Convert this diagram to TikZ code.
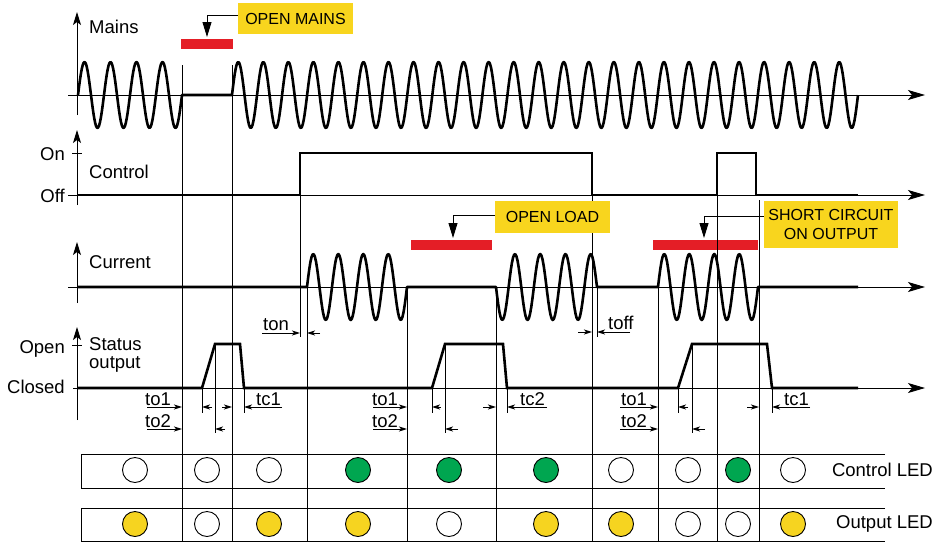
\documentclass[tikz,border=0pt]{standalone}
\usepackage{fontspec}
\setmainfont{Liberation Sans}
\usetikzlibrary{arrows.meta}
\definecolor{notefill}{HTML}{F8D51E}
\definecolor{faultred}{HTML}{E41E26}
\definecolor{ledgreen}{HTML}{00A650}
\definecolor{ledyellow}{HTML}{F6D420}

\begin{document}
\begin{tikzpicture}[
  x=1pt, y=-1pt,
  every node/.style={font=\fontsize{18.5}{21}\selectfont, inner sep=0pt},
  guide/.style={line width=0.9pt},
  sig/.style={line width=2.6pt, line join=round},
  haxis/.style={line width=0.9pt, -{Stealth[length=17pt,width=10pt,inset=4pt]}},
  vaxis/.style={line width=0.9pt, -{Stealth[length=13pt,width=8pt,inset=3pt]}},
  dim/.style={line width=0.9pt, -{Stealth[length=8pt,width=5pt,inset=2pt]}},
  fault/.style={fill=faultred, draw=none},
  note/.style={fill=notefill, font=\fontsize{16}{19}\selectfont, align=center},
  pointer/.style={line width=0.9pt, -{Triangle[length=15pt,width=9pt]}},
  led/.style={circle, draw, line width=0.9pt, minimum size=25pt}
]
\useasboundingbox (0,0) rectangle (934,542);

% fault bars
\fill[fault] (181,39) rectangle (233,49);
\fill[fault] (411,240) rectangle (492,250);
\fill[fault] (653,240) rectangle (758,250);

% time guides
\foreach \x/\a/\b in {182/65/541, 232/65/541, 300/153/337, 307/287/541, 407/287/541,
  496/287/541, 592/153/541, 597/287/337, 658/287/541, 717/153/541, 759/200/541}
  \draw[guide] (\x,\a) -- (\x,\b);
\foreach \x/\a/\b in {202/388/413, 215/344/433, 244/388/413, 432/388/413, 445/344/433,
  507/388/413, 678/388/413, 692/344/433, 772/388/413}
  \draw[guide] (\x,\a) -- (\x,\b);

% axes
\draw[haxis] (68,95) -- (925,95);
\draw[vaxis] (77,115) -- (77,12);
\draw[haxis] (68,195) -- (925,195);
\draw[vaxis] (77,205) -- (77,130);
\draw[guide] (72,153) -- (82,153);
\draw[haxis] (68,287) -- (925,287);
\draw[vaxis] (77,303) -- (77,242);
\draw[haxis] (73,388) -- (925,388);
\draw[vaxis] (77,420) -- (77,327);
\draw[guide] (72,345) -- (82,345);

% signals
\draw[sig] plot[domain=78:182,samples=110] (\x,{95-33*sin((\x-78)/26*360)})
  -- (232,95) -- plot[domain=232:858,samples=700] (\x,{95-33*sin((\x-232)/25.04*360)});
\draw[sig, line join=miter] (77,195) -| (300,153) -| (592,195) -| (717,153) -| (756,195) -- (858,195);
\draw[sig] (77,287) -- (307,287)
  -- plot[domain=307:407,samples=90] (\x,{287-33*sin((\x-307)/25*360)}) -- (496,287)
  -- plot[domain=496:597,samples=90] (\x,{287+33*sin((\x-496)/25.25*360)}) -- (658,287)
  -- plot[domain=658:758,samples=90] (\x,{287-33*sin((\x-658)/25*360)}) -- (858,287);
\draw[sig, line join=miter] (77,388) -- (202,388) -- (215,344) -- (240,344) -- (244,388)
  -- (432,388) -- (445,344) -- (503,344) -- (507,388)
  -- (678,388) -- (692,344) -- (767,344) -- (772,388) -- (858,388);

% timing marks
\foreach \a/\b/\y in {147/182/407, 212/202/407, 147/182/429, 225/215/429, 222/232/407, 282/244/407,
  262/300/333, 320/307/333, 578/592/332, 630/597/332,
  373/407/407, 441/432/407, 373/407/429, 458/445/429, 483/496/407, 547/507/407,
  620/658/407, 688/678/407, 620/658/429, 705/692/429, 747/759/407, 810/772/407}
  \draw[dim] (\a,\y) -- (\b,\y);
\foreach \t/\x/\y [count=\i] in {to1/145/405, to2/145/427, tc1/256/405, ton/263/330, toff/608/329,
  to1/372/405, to2/372/427, tc2/520/405, to1/621/405, to2/621/427, tc1/784/405}
  \node[anchor=base west] (mark\i) at (\x,\y) {\t};

% axis labels
\node[anchor=base west] (mainslbl) at (89,33) {Mains};
\node[anchor=base west] (ctrllbl) at (89,178) {Control};
\node[anchor=base west] (currlbl) at (89,268) {Current};
\node[anchor=base west] (statlbl) at (89,350) {Status};
\node[anchor=base west] (outlbl) at (89,368) {output};
\node[anchor=base east] (onlbl) at (65,160) {On};
\node[anchor=base east] (offlbl) at (65,202) {Off};
\node[anchor=base east] (openlbl) at (65,353) {Open};
\node[anchor=base east] (closedlbl) at (65,393) {Closed};

% LED rows
\draw[guide] (885,454) -- (81,454) -- (81,488) -- (885,488);
\draw[guide] (885,508) -- (81,508) -- (81,541) -- (885,541);
\foreach \x/\c/\o [count=\i] in {135/white/ledyellow, 207/white/white, 269/white/ledyellow,
  358/ledgreen/ledyellow, 449/ledgreen/white, 546/ledgreen/ledyellow, 621/white/ledyellow,
  688/white/white, 738/ledgreen/white, 793/white/ledyellow}
{
  \node[led, fill=\c] (ctrlled\i) at (\x,470) {};
  \node[led, fill=\o] (outled\i) at (\x,524) {};
}
\node[anchor=east] (ctrlrow) at (933,470) {Control LED};
\node[anchor=east] (outrow) at (933,524) {Output LED};

% fault notes
\node[note, minimum width=115pt, minimum height=31pt] (mainsnote) at (295.5,18.5) {OPEN MAINS};
\node[note, minimum width=115pt, minimum height=32pt] (loadnote) at (552.5,217) {OPEN LOAD};
\node[note, minimum width=134pt, minimum height=47pt] (shortnote) at (831,224.5) {SHORT CIRCUIT\\ON OUTPUT};
\coordinate (mainsgap) at (207,37);
\coordinate (loadgap) at (453,238);
\coordinate (shortgap) at (704,238);
\draw[pointer] ([yshift=3.5pt]mainsnote.west) -| (mainsgap);
\draw[pointer] ([yshift=2pt]loadnote.west) -| (loadgap);
\draw[pointer] ([yshift=8.5pt]shortnote.west) -| (shortgap);
\end{tikzpicture}
\end{document}
